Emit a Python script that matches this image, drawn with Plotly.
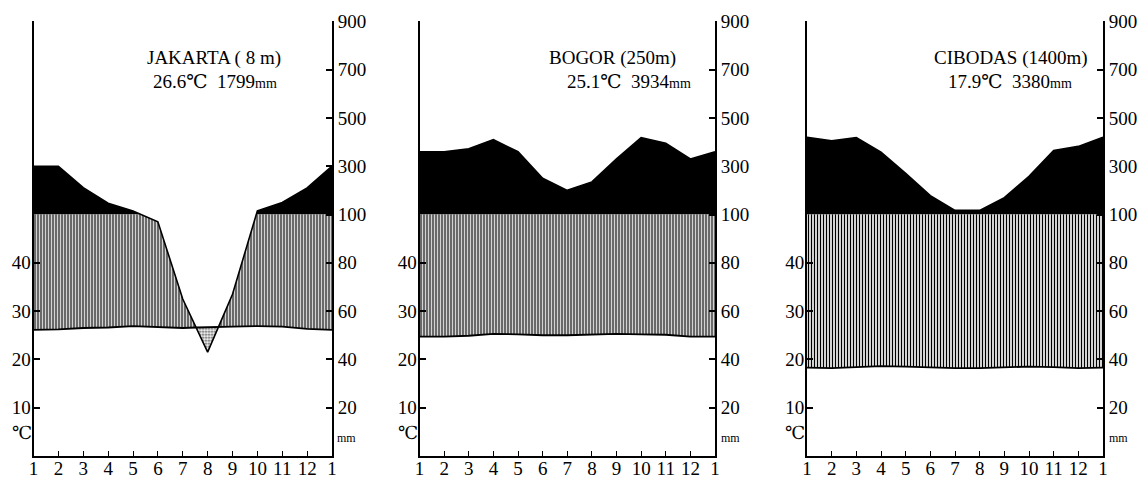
import numpy as np
import plotly.graph_objects as go

# ---------------- data ----------------
months = list(range(1, 14))
month_labels = ["1", "2", "3", "4", "5", "6", "7", "8", "9", "10", "11", "12", "1"]

stations = ["JAKARTA ( 8 m)", "BOGOR (250m)", "CIBODAS (1400m)"]
mean_temp_text = ["26.6℃", "25.1℃", "17.9℃"]
annual_prec_text = ["1799", "3934", "3380"]

jakarta_temp = [26.1, 26.2, 26.5, 26.6, 26.9, 26.7, 26.5, 26.7, 26.8, 26.9, 26.8, 26.3]
jakarta_prec = [300, 300, 211, 147, 114, 97, 65, 43, 67, 115, 150, 210]

bogor_temp = [24.7, 24.7, 24.9, 25.3, 25.2, 25.0, 25.0, 25.1, 25.3, 25.2, 25.1, 24.7]
bogor_prec = [360, 360, 372, 410, 360, 250, 200, 235, 330, 418, 395, 330]

cibodas_temp = [18.3, 18.2, 18.4, 18.6, 18.5, 18.3, 18.2, 18.2, 18.3, 18.5, 18.4, 18.2]
cibodas_prec = [420, 405, 418, 358, 270, 178, 117, 117, 170, 258, 365, 382]

temp_ticks = [10, 20, 30, 40]
prec_tick_pos = [10, 20, 30, 40, 50, 60, 70, 80, 90]
prec_tick_text = ["20", "40", "60", "80", "100", "300", "500", "700", "900"]

temps = [jakarta_temp, bogor_temp, cibodas_temp]
precs = [jakarta_prec, bogor_prec, cibodas_prec]

# ---------------- layout geometry (page pixels) ----------------
W, H = 1143, 480
panel_px = [(33.5, 332.0), (419.5, 715.0), (807.0, 1103.0)]
y0_px, ytop_px = 456.0, 21.3
FONT = "Liberation Serif, DejaVu Serif, serif"


def fx(p):
    return p / W


def fy(p):
    return (H - p) / H


def scaled_prec(p):
    p = np.asarray(p, float)
    return np.where(p <= 100, p / 2.0, 50 + (p - 100) / 20.0)


def curves(temp, prec):
    x = np.array(months, float)
    t = np.array(temp + temp[:1], float)
    p = scaled_prec(prec + prec[:1])
    xs = list(x)
    for g in (p - t, p - 50):
        for i in range(len(x) - 1):
            if g[i] * g[i + 1] < 0:
                xs.append(x[i] + g[i] / (g[i] - g[i + 1]))
    xs = np.array(sorted(set(xs)))
    return xs, np.interp(xs, x, t), np.interp(xs, x, p)


fig = go.Figure()
annotations = []

for k in range(3):
    xs, T, P = curves(temps[k], precs[k])
    xa = "x" if k == 0 else f"x{k+1}"
    ya = "y" if k == 0 else f"y{k+1}"
    common = dict(xaxis=xa, yaxis=ya, showlegend=False, hoverinfo="skip", mode="lines")

    # black area: precipitation above 100 mm
    fig.add_trace(go.Scatter(x=xs, y=np.full_like(xs, 50.0), line=dict(width=0, color="black"), **common))
    fig.add_trace(go.Scatter(x=xs, y=np.maximum(P, 50), fill="tonexty", fillcolor="black",
                             line=dict(width=0, color="black"), **common))
    # humid period: vertical hatching
    fig.add_trace(go.Scatter(x=xs, y=T, line=dict(width=0, color="black"), **common))
    fig.add_trace(go.Scatter(x=xs, y=np.maximum(T, np.minimum(P, 50)), fill="tonexty",
                             fillpattern=dict(shape="|", size=3, solidity=0.45,
                                              fgcolor="black", bgcolor="white", fillmode="replace"),
                             line=dict(width=0, color="black"), **common))
    # arid period: dotted
    fig.add_trace(go.Scatter(x=xs, y=np.minimum(P, T), line=dict(width=0, color="black"), **common))
    fig.add_trace(go.Scatter(x=xs, y=T, fill="tonexty",
                             fillpattern=dict(shape=".", size=3, solidity=0.4,
                                              fgcolor="#444", bgcolor="white", fillmode="replace"),
                             line=dict(width=0, color="black"), **common))
    # curves
    fig.add_trace(go.Scatter(x=xs, y=P, line=dict(width=1.6, color="black"), **common))
    fig.add_trace(go.Scatter(x=xs, y=T, line=dict(width=1.8, color="black"), **common))

    # dummy trace for the right-hand axis
    fig.add_trace(go.Scatter(x=[1], y=[0], xaxis=xa, yaxis=f"y{k+4}", mode="markers",
                             marker=dict(opacity=0), showlegend=False, hoverinfo="skip"))

    l, r = panel_px[k]
    dom_x = [fx(l), fx(r)]
    dom_y = [fy(y0_px), fy(ytop_px)]
    xkey = "xaxis" if k == 0 else f"xaxis{k+1}"
    ykey = "yaxis" if k == 0 else f"yaxis{k+1}"
    fig.layout[xkey] = dict(domain=dom_x, range=[1, 13], anchor=ya,
                            tickvals=months, ticktext=month_labels,
                            ticks="inside", ticklen=5, tickwidth=1.2, tickcolor="black",
                            showline=True, linecolor="black", linewidth=2,
                            showgrid=False, zeroline=False, automargin=False,
                            ticklabelstandoff=-6,
                            tickfont=dict(family=FONT, size=19, color="black"))
    fig.layout[ykey] = dict(domain=dom_y, range=[0, 90], anchor=xa,
                            tickvals=temp_ticks, ticktext=[str(v) for v in temp_ticks],
                            ticks="inside", ticklen=6, tickwidth=1.5, tickcolor="black",
                            showline=True, linecolor="black", linewidth=2,
                            showgrid=False, zeroline=False, automargin=False,
                            ticklabelstandoff=-3,
                            tickfont=dict(family=FONT, size=19, color="black"))
    fig.layout[f"yaxis{k+4}"] = dict(domain=dom_y, range=[0, 90], anchor=xa, overlaying=ya, side="right",
                                     tickvals=prec_tick_pos, ticktext=prec_tick_text,
                                     ticks="inside", ticklen=6, tickwidth=1.5, tickcolor="black",
                                     showline=True, linecolor="black", linewidth=2,
                                     showgrid=False, zeroline=False, automargin=False,
                                     tickfont=dict(family=FONT, size=19, color="black"))

    title_x = [214, 612, 1011][k]
    line2_x = [215, 629, 1010][k]
    annotations.append(dict(x=fx(title_x), y=fy(58), xref="paper", yref="paper",
                            text=stations[k], showarrow=False, xanchor="center", yanchor="middle",
                            font=dict(family=FONT, size=19, color="black")))
    annotations.append(dict(x=fx(line2_x), y=fy(82), xref="paper", yref="paper",
                            text=f"{mean_temp_text[k]}  {annual_prec_text[k]}<span style='font-size:14px'>mm</span>",
                            showarrow=False, xanchor="center", yanchor="middle",
                            font=dict(family=FONT, size=19, color="black")))
    annotations.append(dict(x=fx(l - 12), y=fy(433), xref="paper", yref="paper",
                            text="℃", showarrow=False, xanchor="center", yanchor="middle",
                            font=dict(family=FONT, size=18, color="black")))
    annotations.append(dict(x=fx(r + 15), y=fy(438), xref="paper", yref="paper",
                            text="mm", showarrow=False, xanchor="center", yanchor="middle",
                            font=dict(family=FONT, size=12, color="black")))

fig.update_layout(width=W, height=H, margin=dict(l=0, r=0, t=0, b=0),
                  paper_bgcolor="white", plot_bgcolor="white",
                  annotations=annotations, showlegend=False)

fig.write_html("out.html", config={"displayModeBar": False},
               post_script="document.body.style.margin='0';")
